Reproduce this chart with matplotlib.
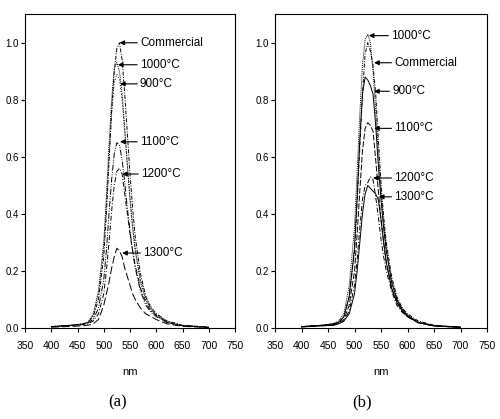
import matplotlib
matplotlib.use('Agg')
import matplotlib.pyplot as plt

plt.rcParams['font.family'] = ['Liberation Sans Narrow', 'Liberation Sans', 'DejaVu Sans']

# wavelength grid (nm)
wl = [400, 440, 460, 470, 480, 490, 500, 505, 510, 515, 520, 525, 530,
      535, 540, 545, 550, 555, 560, 570, 580, 590, 600, 620, 650, 700]

# panel (a)
a_comm = [0.005, 0.01, 0.015, 0.02, 0.04, 0.10, 0.25, 0.40, 0.58, 0.76, 0.90, 0.98, 1.00,
          0.94, 0.82, 0.68, 0.54, 0.42, 0.32, 0.19, 0.11, 0.07, 0.05, 0.025, 0.01, 0.003]
a_1000 = [0.005, 0.01, 0.015, 0.02, 0.05, 0.13, 0.30, 0.46, 0.64, 0.80, 0.91, 0.93, 0.90,
          0.82, 0.70, 0.57, 0.45, 0.35, 0.27, 0.16, 0.10, 0.065, 0.045, 0.02, 0.008, 0.003]
a_900 = [0.005, 0.01, 0.015, 0.02, 0.045, 0.12, 0.28, 0.43, 0.60, 0.75, 0.86, 0.89, 0.87,
         0.80, 0.69, 0.57, 0.46, 0.36, 0.28, 0.17, 0.11, 0.075, 0.05, 0.025, 0.01, 0.003]
a_1100 = [0.005, 0.01, 0.012, 0.018, 0.03, 0.07, 0.17, 0.27, 0.40, 0.52, 0.61, 0.65, 0.64,
          0.59, 0.51, 0.42, 0.34, 0.27, 0.21, 0.13, 0.08, 0.055, 0.04, 0.02, 0.008, 0.003]
a_1200 = [0.005, 0.01, 0.012, 0.015, 0.025, 0.05, 0.12, 0.20, 0.30, 0.41, 0.50, 0.55, 0.56,
          0.54, 0.47, 0.40, 0.33, 0.27, 0.22, 0.14, 0.09, 0.06, 0.045, 0.02, 0.008, 0.003]
a_1300 = [0.003, 0.006, 0.008, 0.01, 0.015, 0.03, 0.08, 0.12, 0.16, 0.21, 0.25, 0.28, 0.27,
          0.25, 0.21, 0.18, 0.15, 0.12, 0.10, 0.07, 0.05, 0.04, 0.03, 0.015, 0.006, 0.002]

# panel (b)
b_1000 = [0.005, 0.01, 0.015, 0.025, 0.05, 0.15, 0.35, 0.55, 0.75, 0.92, 1.01, 1.03, 1.00,
          0.90, 0.76, 0.61, 0.48, 0.37, 0.28, 0.17, 0.10, 0.07, 0.045, 0.02, 0.008, 0.003]
b_comm = [0.005, 0.01, 0.015, 0.02, 0.04, 0.11, 0.27, 0.44, 0.63, 0.82, 0.96, 1.00, 0.97,
          0.92, 0.82, 0.66, 0.51, 0.39, 0.30, 0.18, 0.11, 0.07, 0.05, 0.025, 0.01, 0.003]
b_900 = [0.005, 0.01, 0.015, 0.02, 0.04, 0.11, 0.28, 0.46, 0.66, 0.82, 0.88, 0.87, 0.85,
         0.82, 0.71, 0.57, 0.45, 0.35, 0.27, 0.16, 0.10, 0.065, 0.045, 0.02, 0.008, 0.003]
b_1100 = [0.005, 0.01, 0.012, 0.018, 0.03, 0.08, 0.20, 0.33, 0.48, 0.62, 0.70, 0.72, 0.71,
          0.69, 0.59, 0.48, 0.38, 0.30, 0.23, 0.14, 0.09, 0.06, 0.04, 0.02, 0.008, 0.003]
b_1200 = [0.004, 0.008, 0.01, 0.015, 0.025, 0.06, 0.15, 0.24, 0.35, 0.45, 0.50, 0.51, 0.53,
          0.52, 0.46, 0.39, 0.31, 0.25, 0.20, 0.13, 0.08, 0.055, 0.04, 0.018, 0.007, 0.002]
b_1300 = [0.004, 0.008, 0.01, 0.015, 0.025, 0.05, 0.12, 0.20, 0.30, 0.40, 0.47, 0.50, 0.49,
          0.48, 0.47, 0.45, 0.38, 0.30, 0.23, 0.14, 0.09, 0.06, 0.04, 0.02, 0.008, 0.003]

xticks = [350, 400, 450, 500, 550, 600, 650, 700, 750]
yticks = [0.0, 0.2, 0.4, 0.6, 0.8, 1.0]

# (label, series, linestyle, arrow tip x, arrow tip y, text x)
panel_a = [
    ('Commercial', a_comm, (0, (4, 1.5, 1, 1.5)), 530, 1.00, 569),
    ('1000°C', a_1000, (0, (1, 1)), 527, 0.923, 569),
    ('900°C', a_900, (0, (1, 2)), 531, 0.856, 569),
    ('1100°C', a_1100, (0, (6, 1.5, 1, 1.5, 1, 1.5)), 531, 0.653, 569),
    ('1200°C', a_1200, (0, (5, 2, 1, 2)), 535, 0.54, 571),
    ('1300°C', a_1300, (0, (8, 3)), 535, 0.263, 575),
]
panel_b = [
    ('1000°C', b_1000, (0, (1, 1)), 527, 1.025, 569),
    ('Commercial', b_comm, (0, (4, 1.5, 1, 1.5)), 537, 0.93, 575),
    ('900°C', b_900, '-', 537, 0.83, 571),
    ('1100°C', b_1100, (0, (6, 2)), 537, 0.70, 575),
    ('1200°C', b_1200, (0, (5, 2, 1, 2)), 535, 0.526, 575),
    ('1300°C', b_1300, '-', 546, 0.46, 575),
]

fig = plt.figure(figsize=(5.0, 4.19), dpi=100)
ax_a = fig.add_axes([0.05, 0.217, 0.42, 0.749])
ax_b = fig.add_axes([0.55, 0.217, 0.424, 0.749])

for ax, curves, tag, cx in [(ax_a, panel_a, '(a)', 0.236), (ax_b, panel_b, '(b)', 0.724)]:
    for label, ys, ls, tx, ty, lx in curves:
        ax.plot(wl, ys, color='black', lw=0.7, linestyle=ls)
        ax.annotate(label, xy=(tx, ty), xytext=(lx, ty), fontsize=8.5, va='center',
                    arrowprops=dict(arrowstyle='-|>', color='black', lw=0.8,
                                    mutation_scale=7, shrinkA=0, shrinkB=0))
    ax.set_xlim(350, 750)
    ax.set_ylim(0, 1.1)
    ax.set_xticks(xticks)
    ax.set_xticklabels([str(v) for v in xticks])
    ax.set_yticks(yticks)
    ax.set_yticklabels(['%.1f' % v for v in yticks])
    ax.tick_params(axis='x', labelsize=7.5, length=3, width=0.8, pad=6)
    ax.tick_params(axis='y', labelsize=7, length=3, width=0.8, pad=1.5)
    for s in ax.spines.values():
        s.set_linewidth(0.8)
    ax.set_xlabel('nm', fontsize=8, labelpad=12)
    fig.text(cx, 0.04, tag, ha='center', va='center', fontsize=12,
             family=['Liberation Serif', 'DejaVu Serif'])

fig.savefig('out.png', dpi=100)
